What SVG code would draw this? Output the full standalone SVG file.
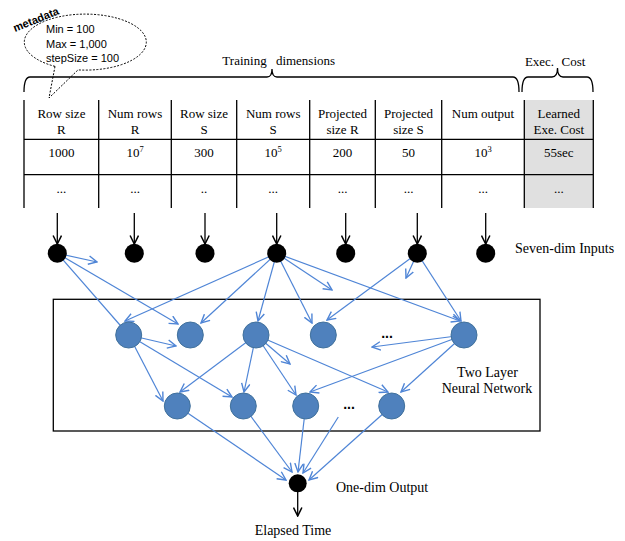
<svg xmlns="http://www.w3.org/2000/svg" width="625" height="541" viewBox="0 0 625 541">
<defs>
<marker id="ab" viewBox="0 0 10 10" refX="9" refY="5" markerWidth="10" markerHeight="10" orient="auto" markerUnits="userSpaceOnUse">
<path d="M0.5,0.8 L9,5 L0.5,9.2" fill="none" stroke="#4f85d6" stroke-width="1.4"/>
</marker>
<marker id="ak" viewBox="0 0 10 10" refX="9" refY="5" markerWidth="10" markerHeight="10" orient="auto" markerUnits="userSpaceOnUse">
<path d="M0.5,0.8 L9,5 L0.5,9.2" fill="none" stroke="#000" stroke-width="1.5"/>
</marker>
</defs>
<style>
.t{font-family:"Liberation Serif","Times New Roman",serif;font-size:13px;fill:#000;text-anchor:middle}
.l{font-family:"Liberation Serif","Times New Roman",serif;font-size:14px;fill:#000}
.c{font-family:"Liberation Sans",Arial,sans-serif;font-size:11px;fill:#000}
.g{stroke:#000;stroke-width:1.3;fill:none}
.b{stroke:#4f85d6;stroke-width:1.2;fill:none;marker-end:url(#ab)}
.bn{stroke:#4f85d6;stroke-width:1.2;fill:none}
.k{stroke:#000;stroke-width:1.3;fill:none;marker-end:url(#ak)}
.hn{fill:#4f81bd;stroke:#41719c;stroke-width:1}
.dots{font-family:"Liberation Sans",Arial,sans-serif;font-size:14px;font-weight:bold;fill:#000;text-anchor:middle}
</style>

<g id="metadata">
<path d="M55,66.4 A61,28 0 1 1 78,69.9 L49,98 L55,66.4" fill="none" stroke="#000" stroke-width="1" stroke-dasharray="2,1.5"/>
<text class="c" x="15" y="32" font-size="11.5" font-weight="bold" transform="rotate(-22 15 32)">metadata</text>
<text class="c" x="46" y="33">Min = 100</text>
<text class="c" x="46" y="47.5">Max = 1,000</text>
<text class="c" x="46" y="62">stepSize = 100</text>
</g>

<g id="braces">
<path class="g" d="M24,92 Q24,77 30,77 L267,77 Q272,77 272,69 Q272,77 277,77 L513,77 Q519,77 519,92"/>
<text class="t" x="244.5" y="64.5">Training</text>
<text class="t" x="305.5" y="64.5">dimensions</text>
<path class="g" d="M522,92 Q522,77 528,77 L552,77 Q557.5,77 557.5,68 Q557.5,77 563,77 L587,77 Q593,77 593,92"/>
<text class="t" x="539.5" y="66">Exec.</text>
<text class="t" x="573.5" y="66">Cost</text>
</g>

<g id="table">
<rect x="524.3" y="100" width="69" height="108" fill="#e0e0e0"/>
<path class="g" d="M24,100V208M98.7,100V208M171.3,100V208M236.7,100V208M309.7,100V208M375.3,100V208M441.7,100V208M524.3,100V208M593.3,100V208M24,139.3H593.3M24,174.7H593.3"/>
<text class="t" x="61.4" y="117.5">Row size</text><text class="t" x="61.4" y="133.5">R</text>
<text class="t" x="135" y="117.5">Num rows</text><text class="t" x="135" y="133.5">R</text>
<text class="t" x="204" y="117.5">Row size</text><text class="t" x="204" y="133.5">S</text>
<text class="t" x="273.2" y="117.5">Num rows</text><text class="t" x="273.2" y="133.5">S</text>
<text class="t" x="342.5" y="117.5">Projected</text><text class="t" x="342.5" y="133.5">size R</text>
<text class="t" x="408.5" y="117.5">Projected</text><text class="t" x="408.5" y="133.5">size S</text>
<text class="t" x="483" y="117.5">Num output</text>
<text class="t" x="558.8" y="117.5">Learned</text><text class="t" x="558.8" y="133.5">Exe. Cost</text>
<text class="t" x="61.4" y="157">1000</text>
<text class="t" x="135" y="157">10<tspan font-size="8.5" dy="-5">7</tspan></text>
<text class="t" x="204" y="157">300</text>
<text class="t" x="273.2" y="157">10<tspan font-size="8.5" dy="-5">5</tspan></text>
<text class="t" x="342.5" y="157">200</text>
<text class="t" x="408.5" y="157">50</text>
<text class="t" x="483" y="157">10<tspan font-size="8.5" dy="-5">3</tspan></text>
<text class="t" x="558.8" y="157">55sec</text>
<text class="t" x="61.4" y="193">...</text>
<text class="t" x="135" y="193">...</text>
<text class="t" x="204" y="193">..</text>
<text class="t" x="273.2" y="193">...</text>
<text class="t" x="342.5" y="193">...</text>
<text class="t" x="408.5" y="193">...</text>
<text class="t" x="483" y="193">...</text>
<text class="t" x="558.8" y="193">...</text>
</g>

<g id="network-box">
<rect x="53.3" y="299.3" width="486.7" height="131.7" fill="none" stroke="#000" stroke-width="1.3"/>
<text class="l" x="487.5" y="376.5" text-anchor="middle">Two Layer</text>
<text class="l" x="487" y="393" text-anchor="middle">Neural Network</text>
<text class="dots" x="387" y="338">...</text>
<text class="dots" x="349" y="409">...</text>
</g>

<g id="connectors">
<path class="k" d="M57.3,213V244"/>
<path class="k" d="M134.3,213V244"/>
<path class="k" d="M205,213V244"/>
<path class="k" d="M276.7,213V244"/>
<path class="k" d="M345.7,213V244"/>
<path class="k" d="M417.3,213V244"/>
<path class="k" d="M485.7,213V244"/>
<path class="k" d="M297.7,492V516"/>

<path class="b" d="M57.3,253.3L97,262"/>
<path class="b" d="M57.3,253.3L178,324"/>
<path class="bn" d="M57.3,253.3L128.7,335"/>
<path class="b" d="M276.7,253.3L125,321"/>
<path class="b" d="M276.7,253.3L201,323"/>
<path class="b" d="M276.7,253.3L258,321"/>
<path class="b" d="M276.7,253.3L312,323"/>
<path class="b" d="M276.7,253.3L332,290"/>
<path class="b" d="M276.7,253.3L460,321"/>
<path class="b" d="M417.3,253.3L327,320"/>
<path class="b" d="M417.3,253.3L406,278"/>
<path class="b" d="M417.3,253.3L461,321"/>

<path class="b" d="M128.7,335L176,346"/>
<path class="b" d="M128.7,335L163,401"/>
<path class="b" d="M128.7,335L232,397"/>
<path class="b" d="M256,335L180,392"/>
<path class="b" d="M256,335L244,392"/>
<path class="b" d="M256,335L296,395"/>
<path class="b" d="M256,335L290,364"/>
<path class="b" d="M256,335L388,392"/>
<path class="b" d="M464,335L372,347"/>
<path class="b" d="M464,335L310,392"/>
<path class="b" d="M464,335L401,392"/>

<path class="b" d="M177.3,406L286,480"/>
<path class="b" d="M243.3,406L292,472"/>
<path class="b" d="M305.7,406L298,472"/>
<path class="b" d="M338.3,417L303,473"/>
<path class="b" d="M391.7,406L309,480"/>
</g>

<g id="input-nodes">
<circle cx="57.3" cy="253.3" r="9.5"/>
<circle cx="134.3" cy="253.3" r="9.5"/>
<circle cx="205" cy="253.3" r="9.5"/>
<circle cx="276.7" cy="253.3" r="9.5"/>
<circle cx="345.7" cy="253.3" r="9.5"/>
<circle cx="417.3" cy="253.3" r="9.5"/>
<circle cx="485.7" cy="253.3" r="9.5"/>
<text class="l" x="515" y="252.5">Seven-dim Inputs</text>
</g>

<g id="hidden-layer-1">
<circle class="hn" cx="128.7" cy="335" r="13"/>
<circle class="hn" cx="190.3" cy="335" r="13"/>
<circle class="hn" cx="256" cy="335" r="13"/>
<circle class="hn" cx="323.3" cy="335" r="13"/>
<circle class="hn" cx="464" cy="335" r="13"/>
</g>

<g id="hidden-layer-2">
<circle class="hn" cx="177.3" cy="406" r="13"/>
<circle class="hn" cx="243.3" cy="406" r="13"/>
<circle class="hn" cx="305.7" cy="406" r="13"/>
<circle class="hn" cx="391.7" cy="406" r="13"/>
</g>

<g id="output-node">
<circle cx="297.7" cy="483.3" r="9"/>
<text class="l" x="336" y="492">One-dim Output</text>
<text class="l" x="293" y="535" text-anchor="middle">Elapsed Time</text>
</g>
</svg>
